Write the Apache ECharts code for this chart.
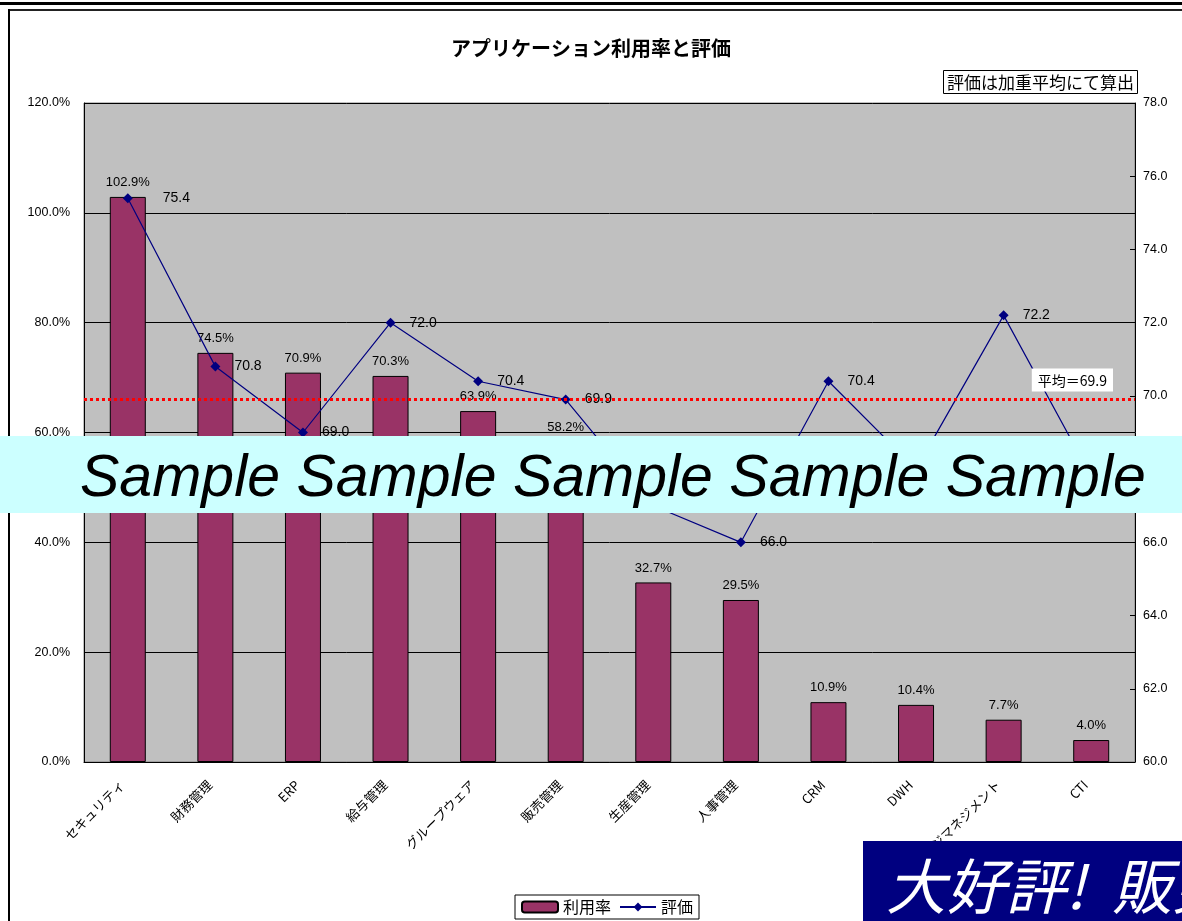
<!DOCTYPE html>
<html>
<head>
<meta charset="utf-8">
<title>アプリケーション利用率と評価</title>
<script src="https://cdn.jsdelivr.net/npm/echarts@6/dist/echarts.min.js"></script>
<style>
    html, body { margin: 0; padding: 0; background: #fff; }
    #main { width: 1182px; height: 921px; }
</style>
</head>
<body>
<div id="main"></div>
<script>
// カテゴリと値
var categories = ['セキュリティ', '財務管理', 'ERP', '給与管理', 'グループウェア', '販売管理',
    '生産管理', '人事管理', 'CRM', 'DWH', 'ナレッジマネジメント', 'CTI'];
var usageRate = [102.9, 74.5, 70.9, 70.3, 63.9, 58.2, 32.7, 29.5, 10.9, 10.4, 7.7, 4.0];
var rating = [75.4, 70.8, 69.0, 72.0, 70.4, 69.9, 67.0, 66.0, 70.4, 68.0, 72.2, 67.8];
var avgRating = 69.9;

var jpFont = '"Noto Sans CJK JP", sans-serif';
var numFont = '"Liberation Sans", Arial, sans-serif';

var myChart = echarts.init(document.getElementById('main'));

// 先頭のラベルだけ棒ラベルと重ならないよう離す
var ratingData = rating.map(function (v, i) {
    return i === 0 ? { value: v, label: { distance: 30 } } : v;
});

var option = {
    backgroundColor: '#fff',
    animation: false,
    title: [{
        text: 'アプリケーション利用率と評価',
        left: 'center',
        top: 33,
        textStyle: { fontFamily: jpFont, fontSize: 20, fontWeight: 'bold', color: '#000' }
    }, {
        text: '評価は加重平均にて算出',
        right: 44,
        top: 70,
        padding: [4, 4, 3, 4],
        borderColor: '#000',
        borderWidth: 1,
        backgroundColor: '#fff',
        textStyle: { fontFamily: jpFont, fontSize: 17, fontWeight: 'normal', color: '#000' }
    }],
    legend: {
        data: ['利用率', '評価'],
        left: 515,
        top: 895,
        orient: 'horizontal',
        padding: [4, 6],
        itemWidth: 36,
        itemHeight: 11,
        itemGap: 8,
        borderColor: '#000',
        borderWidth: 1,
        backgroundColor: '#fff',
        textStyle: { fontFamily: jpFont, fontSize: 16, color: '#000' }
    },
    grid: {
        left: 84,
        right: 47,
        top: 103,
        bottom: 159,
        show: true,
        backgroundColor: '#c0c0c0',
        borderColor: '#808080',
        borderWidth: 1
    },
    xAxis: {
        type: 'category',
        data: categories,
        axisLine: { lineStyle: { color: '#000' } },
        axisTick: { inside: true, length: 5, lineStyle: { color: '#000' } },
        axisLabel: {
            interval: 0,
            rotate: 45,
            margin: 15,
            padding: [0, 8, 0, 0],
            color: '#000',
            fontFamily: jpFont,
            fontSize: 13
        }
    },
    yAxis: [{
        type: 'value',
        min: 0,
        max: 120,
        interval: 20,
        axisLine: { show: true, lineStyle: { color: '#000' } },
        axisTick: { show: false },
        axisLabel: {
            color: '#000',
            fontFamily: numFont,
            fontSize: 12.5,
            margin: 14,
            formatter: function (v) { return v.toFixed(1) + '%'; }
        },
        splitLine: { show: true, lineStyle: { color: '#000', width: 1 } }
    }, {
        type: 'value',
        min: 60,
        max: 78,
        interval: 2,
        axisLine: { show: true, lineStyle: { color: '#000' } },
        axisTick: { show: true, inside: true, length: 5, lineStyle: { color: '#000' } },
        axisLabel: {
            color: '#000',
            fontFamily: numFont,
            fontSize: 12.5,
            margin: 8,
            formatter: function (v) { return v.toFixed(1); }
        },
        splitLine: { show: false }
    }],
    series: [{
        name: '利用率',
        type: 'bar',
        data: usageRate,
        barWidth: 36,
        itemStyle: { color: '#993366', borderColor: '#000', borderWidth: 1 },
        label: {
            show: true,
            position: 'top',
            distance: 8,
            color: '#000',
            fontFamily: numFont,
            fontSize: 13,
            formatter: function (p) { return p.value.toFixed(1) + '%'; }
        }
    }, {
        name: '評価',
        type: 'line',
        yAxisIndex: 1,
        data: ratingData,
        symbol: 'diamond',
        symbolSize: 10,
        itemStyle: { color: '#000080' },
        lineStyle: { color: '#000080', width: 1.2 },
        label: {
            show: true,
            position: 'right',
            distance: 14,
            color: '#000',
            fontFamily: numFont,
            fontSize: 14,
            formatter: function (p) { return p.value.toFixed(1); }
        },
        markLine: {
            silent: true,
            symbol: 'none',
            data: [{ yAxis: avgRating }],
            lineStyle: { color: '#ff0000', type: [3, 3], width: 3 },
            label: {
                show: true,
                position: 'insideEndTop',
                formatter: '平均＝' + avgRating.toFixed(1),
                backgroundColor: '#fff',
                padding: [5, 6, 4, 6],
                distance: [22, 8],
                color: '#000',
                fontFamily: jpFont,
                fontSize: 14
            }
        }
    }],
    graphic: [
        // 外枠
        { type: 'rect', z: 50, shape: { x: 0, y: 2, width: 1182, height: 3 }, style: { fill: '#000' } },
        { type: 'rect', z: 50, shape: { x: 9, y: 9, width: 1173, height: 2 }, style: { fill: '#222' } },
        { type: 'rect', z: 50, shape: { x: 8, y: 9, width: 2, height: 912 }, style: { fill: '#000' } },
        // サンプル帯
        { type: 'rect', z: 100, shape: { x: 0, y: 436, width: 1182, height: 77 }, style: { fill: '#ccffff' } },
        {
            type: 'text', z: 101, left: 80, top: 450,
            style: {
                text: 'Sample Sample Sample Sample Sample',
                fill: '#000',
                font: 'italic 59px "Liberation Sans", Arial, sans-serif'
            }
        },
        // 右下バナー
        { type: 'rect', z: 100, shape: { x: 863, y: 841, width: 330, height: 90 }, style: { fill: '#000080' } },
        {
            type: 'text', z: 101, left: 886, top: 856,
            style: {
                text: '大好評!  販売中',
                fill: '#fff',
                font: 'italic 60px "Noto Sans CJK JP", sans-serif'
            }
        }
    ]
};

myChart.setOption(option);
window.onresize = function () {
    myChart.resize();
};
</script>
</body>
</html>
